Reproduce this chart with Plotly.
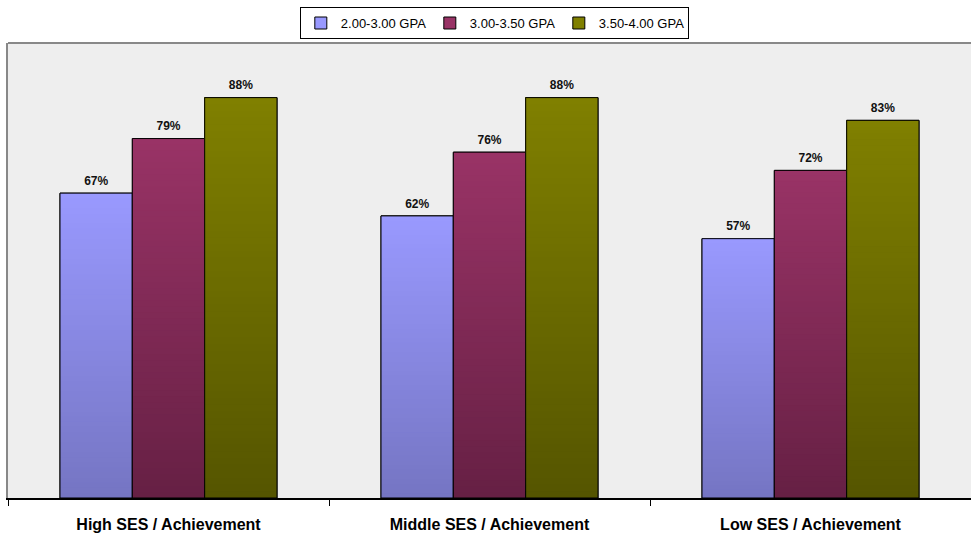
import plotly.graph_objects as go

categories = ["High SES / Achievement", "Middle SES / Achievement", "Low SES / Achievement"]
series_names = ["2.00-3.00 GPA", "3.00-3.50 GPA", "3.50-4.00 GPA"]
gpa_low = [67, 62, 57]
gpa_mid = [79, 76, 72]
gpa_high = [88, 88, 83]
series_values = [gpa_low, gpa_mid, gpa_high]

top_colors = [(153, 153, 255), (153, 51, 102), (128, 128, 0)]
bottom_colors = [(117, 117, 194), (102, 32, 68), (85, 85, 0)]

N = 60
FONT = "Liberation Sans, Arial"

def rgb(c):
    return "rgb(%d,%d,%d)" % tuple(int(round(v)) for v in c)

fig = go.Figure()

for s, (name, vals) in enumerate(zip(series_names, series_values)):
    og = str(s)
    # legend / base trace
    fig.add_trace(go.Bar(
        x=categories, y=vals, name=name, offsetgroup=og, alignmentgroup="a",
        marker=dict(color=rgb(top_colors[s]), line=dict(color="black", width=1)),
        hoverinfo="skip",
    ))
    # gradient segments: each spans from its base to the bar top, later ones cover earlier
    xs, bases, ys, cols = [], [], [], []
    for k in range(N):
        t = (k + 0.5) / N
        c = [bottom_colors[s][i] + (top_colors[s][i] - bottom_colors[s][i]) * t for i in range(3)]
        for cat, v in zip(categories, vals):
            xs.append(cat)
            bases.append(v * k / N)
            ys.append(v - v * k / N)
            cols.append(rgb(c))
    fig.add_trace(go.Bar(
        x=xs, y=ys, base=bases, offsetgroup=og, alignmentgroup="a", showlegend=False,
        marker=dict(color=cols, line=dict(width=0)), hoverinfo="skip",
    ))
    # outline
    fig.add_trace(go.Bar(
        x=categories, y=vals, offsetgroup=og, alignmentgroup="a", showlegend=False,
        marker=dict(color="rgba(0,0,0,0)", line=dict(color="black", width=1)),
        hoverinfo="skip",
    ))
    # value labels
    fig.add_trace(go.Scatter(
        x=categories, y=vals, offsetgroup=og, alignmentgroup="a", showlegend=False,
        mode="markers+text", marker=dict(size=7, color="rgba(0,0,0,0)"),
        text=["%d%%" % v for v in vals], textposition="top center",
        textfont=dict(family=FONT, size=12, color="#111111", weight="bold"),
        hoverinfo="skip", cliponaxis=False,
    ))

fig.update_layout(
    width=971, height=533,
    margin=dict(l=8, r=0, t=43, b=35, autoexpand=False),
    paper_bgcolor="white", plot_bgcolor="#EEEEEE",
    barmode="group", bargap=0.324, bargroupgap=0,
    scattermode="group", scattergap=0.324,
    font=dict(family=FONT, color="black"),
    legend=dict(
        orientation="h", x=0.505, xanchor="center", y=1.079, yanchor="top",
        bordercolor="black", borderwidth=1, bgcolor="white",
        font=dict(size=13, family=FONT),
        itemwidth=30, tracegroupgap=0, entrywidth=84, entrywidthmode="pixels",
    ),
    xaxis=dict(
        type="category", showline=True, linecolor="black", linewidth=2,
        ticks="outside", tickson="boundaries", ticklen=6, tickcolor="black", tickwidth=1,
        tickfont=dict(size=16, family=FONT, weight="bold"),
        ticklabelstandoff=11, showgrid=False, zeroline=False,
    ),
    yaxis=dict(
        range=[0, 100], showticklabels=False, showgrid=False, zeroline=False,
        showline=True, linecolor="#888888", linewidth=2, ticks="",
    ),
    shapes=[dict(type="line", xref="paper", yref="paper", x0=0, x1=1, y0=1, y1=1,
                 line=dict(color="#888888", width=2))],
    showlegend=True,
)

fig.write_html("out.html", config={"displayModeBar": False},
               post_script="document.body.style.margin='0px';")
